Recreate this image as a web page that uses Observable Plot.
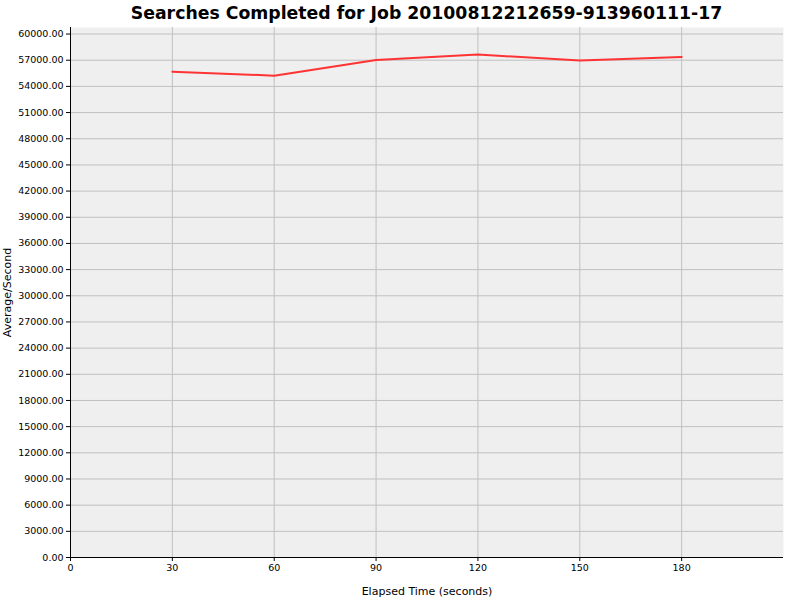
<!DOCTYPE html>
<html>
<head>
<meta charset="utf-8">
<script src="https://cdn.jsdelivr.net/npm/d3@7"></script>
<script src="https://cdn.jsdelivr.net/npm/@observablehq/plot@0.6"></script>
<style>
  html, body { margin: 0; padding: 0; background: #ffffff; }
  #wrap { width: 800px; height: 600px; position: relative; font-family: "DejaVu Sans", sans-serif; }
  #title { position: absolute; left: 70px; width: 713px; top: 3px; text-align: center;
           font-size: 17.3px; font-weight: bold; color: #000; line-height: 21px; }
  #chart { position: absolute; left: 0; top: 24px; }
</style>
</head>
<body>
<div id="wrap">
  <div id="title">Searches Completed for Job 20100812212659-913960111-17</div>
  <div id="chart"></div>
</div>
<script>
const elapsed = [30, 60, 90, 120, 150, 180];
const perSecond = [55690, 55230, 57035, 57645, 56955, 57380];
const xTicks = [0, 30, 60, 90, 120, 150, 180];
const yTicks = [0, 3000, 6000, 9000, 12000, 15000, 18000, 21000, 24000, 27000, 30000,
                33000, 36000, 39000, 42000, 45000, 48000, 51000, 54000, 57000, 60000];

const data = elapsed.map((t, i) => ({t, v: perSecond[i]}));

const plot = Plot.plot({
  width: 800,
  height: 576,
  marginTop: 3,
  marginBottom: 43,
  marginLeft: 70,
  marginRight: 17,
  style: {fontFamily: "DejaVu Sans, sans-serif", fontSize: "9.5px", color: "#000", background: "transparent"},
  x: {domain: [0, 210]},
  y: {domain: [0, 60750]},
  marks: [
    Plot.frame({fill: "#efefef", stroke: null}),
    Plot.gridX(xTicks.filter(d => d > 0), {stroke: "#c0c0c0", strokeOpacity: 1, strokeWidth: 1}),
    Plot.gridY(yTicks.filter(d => d > 0), {stroke: "#c0c0c0", strokeOpacity: 1, strokeWidth: 1}),
    Plot.axisX(xTicks, {tickSize: 4, tickPadding: 3, label: "Elapsed Time (seconds)", labelAnchor: "center",
                        labelArrow: "none", labelOffset: 37, fontSize: 9.5, tickFormat: d => String(d)}),
    Plot.axisY(yTicks, {tickSize: 4, tickPadding: 3, tickFormat: d => d.toFixed(2), label: "Average/Second",
                        labelAnchor: "center", labelArrow: "none", labelOffset: 67, fontSize: 9.5}),
    Plot.ruleX([0], {stroke: "#000", strokeWidth: 1}),
    Plot.ruleY([0], {stroke: "#000", strokeWidth: 1}),
    Plot.line(data, {x: "t", y: "v", stroke: "#ff3333", strokeWidth: 2})
  ]
});
document.getElementById("chart").appendChild(plot);
plot.querySelectorAll("[aria-label='x-axis label'] text, [aria-label='y-axis label'] text").forEach(t => t.setAttribute("font-size", "11"));
</script>
</body>
</html>
